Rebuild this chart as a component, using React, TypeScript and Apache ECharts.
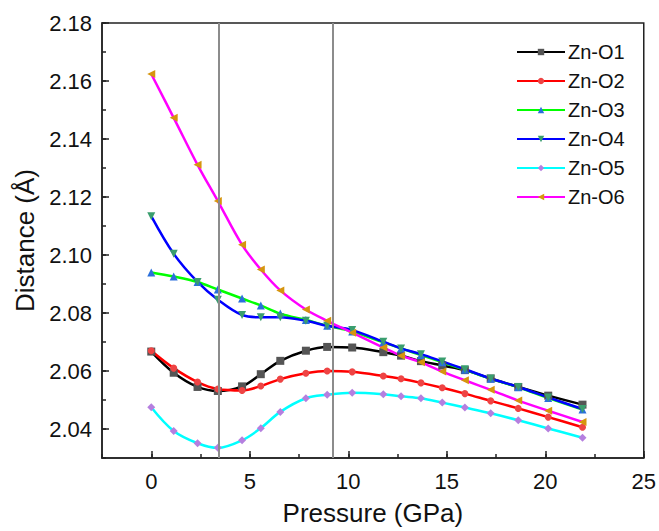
import React, { useEffect, useRef } from "react";
import * as echarts from "echarts";

const pressure = [0, 1.14, 2.35, 3.38, 4.61, 5.56, 6.55, 7.85, 8.93, 10.2, 11.78, 12.68, 13.69, 14.77, 15.92, 17.23, 18.63, 20.15, 21.89];

const znO1 = [2.0667, 2.0594, 2.0545, 2.0531, 2.0547, 2.0589, 2.0635, 2.0670, 2.0683, 2.0681, 2.0665, 2.0653, 2.0634, 2.0619, 2.0603, 2.0574, 2.0545, 2.0515, 2.0484];
const znO2 = [2.0670, 2.0610, 2.0562, 2.0538, 2.0533, 2.0548, 2.0572, 2.0592, 2.0600, 2.0597, 2.0583, 2.0573, 2.0559, 2.0542, 2.0522, 2.0497, 2.0471, 2.0441, 2.0406];
const znO3 = [2.0940, 2.0926, 2.0907, 2.0881, 2.0850, 2.0826, 2.0798, 2.0776, 2.0756, 2.0736, 2.0699, 2.0678, 2.0655, 2.0630, 2.0604, 2.0573, 2.0544, 2.0507, 2.0467];
const znO4 = [2.1134, 2.1004, 2.0907, 2.0846, 2.0793, 2.0785, 2.0785, 2.0773, 2.0756, 2.0741, 2.0701, 2.0678, 2.0658, 2.0633, 2.0606, 2.0574, 2.0545, 2.0509, 2.0469];
const znO5 = [2.0475, 2.0393, 2.0351, 2.0335, 2.0361, 2.0403, 2.0459, 2.0506, 2.0518, 2.0525, 2.0520, 2.0513, 2.0506, 2.0491, 2.0474, 2.0454, 2.0430, 2.0402, 2.0370];
const znO6 = [2.1624, 2.1473, 2.1311, 2.1186, 2.1035, 2.0950, 2.0878, 2.0812, 2.0773, 2.0732, 2.0681, 2.0653, 2.0630, 2.0598, 2.0568, 2.0535, 2.0498, 2.0463, 2.0424];

const seriesNames = ["Zn-O1", "Zn-O2", "Zn-O3", "Zn-O4", "Zn-O5", "Zn-O6"];
const seriesValues = [znO1, znO2, znO3, znO4, znO5, znO6];
const lineColors = ["#000000", "#ff0000", "#00ff00", "#0000ff", "#00ffff", "#ff00ff"];
const markerColors = ["#555555", "#ee4444", "#2a6fdb", "#3a9e6e", "#b57fdf", "#d6950e"];
const markerShapes = ["rect", "circle", "triangle", "triangle", "diamond", "triangle"];
const markerRotations = [0, 0, 0, 180, 0, 90];

const phaseLines = [3.43, 9.2];

const FONT = "'Liberation Sans', Arial, sans-serif";

export default function App() {
  const ref = useRef<HTMLDivElement>(null);
  useEffect(() => {
    document.body.style.margin = "0";
    if (!ref.current) return;
    const chart = echarts.init(ref.current, null, { renderer: "svg" });
    const series: any[] = seriesNames.map((name, i) => ({
      name,
      type: "line",
      data: pressure.map((p, j) => [p, seriesValues[i][j]]),
      smooth: 0.35,
      symbol: markerShapes[i],
      symbolRotate: markerRotations[i],
      symbolSize: markerShapes[i] === "circle" ? 7 : 8,
      showAllSymbol: true,
      lineStyle: { color: lineColors[i], width: 2.5 },
      itemStyle: { color: markerColors[i] },
      z: 3,
    }));
    series.push({
      name: "phase",
      type: "line",
      data: [],
      z: 2,
      markLine: {
        silent: true,
        symbol: "none",
        label: { show: false },
        lineStyle: { color: "#8c8c8c", width: 2, type: "solid" },
        data: phaseLines.map((v) => ({ xAxis: v })),
      },
    });
    const axisText = { fontSize: 22, color: "#111", fontFamily: FONT };
    chart.setOption({
      animation: false,
      textStyle: { fontFamily: FONT },
      grid: {
        left: 102,
        right: 13,
        top: 23,
        bottom: 71,
        show: true,
        borderColor: "#222",
        borderWidth: 1.5,
      },
      legend: {
        data: seriesNames,
        orient: "vertical",
        left: 511,
        top: 37,
        itemWidth: 48,
        itemHeight: 8,
        itemGap: 9,
        textStyle: { fontSize: 20, color: "#111", fontFamily: FONT, padding: [0, 0, 0, -2] },
      },
      xAxis: [
        {
          type: "value",
          min: -2.5,
          max: 25,
          splitNumber: 5,
          name: "Pressure (GPa)",
          nameLocation: "middle",
          nameGap: 42,
          nameTextStyle: { fontSize: 26, color: "#111", fontFamily: FONT },
          axisLine: { show: true, onZero: false, lineStyle: { color: "#222", width: 1.5 } },
          axisTick: { show: true, inside: true, length: 7, lineStyle: { color: "#222", width: 1.5 } },
          axisLabel: { ...axisText, margin: 12, showMinLabel: false },
          splitLine: { show: false },
        },
        {
          type: "value",
          min: -2.5,
          max: 25,
          interval: 2.5,
          position: "bottom",
          axisLine: { show: false, onZero: false },
          axisTick: { show: true, inside: true, length: 4, lineStyle: { color: "#222", width: 1.5 } },
          axisLabel: { show: false },
          splitLine: { show: false },
        },
      ],
      yAxis: [
        {
          type: "value",
          min: 2.03,
          max: 2.18,
          splitNumber: 7,
          name: "Distance (Å)",
          nameLocation: "middle",
          nameGap: 62,
          nameTextStyle: { fontSize: 26, color: "#111", fontFamily: FONT },
          axisLine: { show: true, onZero: false, lineStyle: { color: "#222", width: 1.5 } },
          axisTick: { show: true, inside: true, length: 7, lineStyle: { color: "#222", width: 1.5 } },
          axisLabel: { ...axisText, margin: 10, showMinLabel: false, formatter: (v: number) => v.toFixed(2) },
          splitLine: { show: false },
        },
        {
          type: "value",
          min: 2.03,
          max: 2.18,
          interval: 0.01,
          position: "left",
          axisLine: { show: false, onZero: false },
          axisTick: { show: true, inside: true, length: 4, lineStyle: { color: "#222", width: 1.5 } },
          axisLabel: { show: false },
          splitLine: { show: false },
        },
      ],
      series,
    });
    return () => chart.dispose();
  }, []);
  return <div ref={ref} style={{ width: 659, height: 531 }} />;
}
